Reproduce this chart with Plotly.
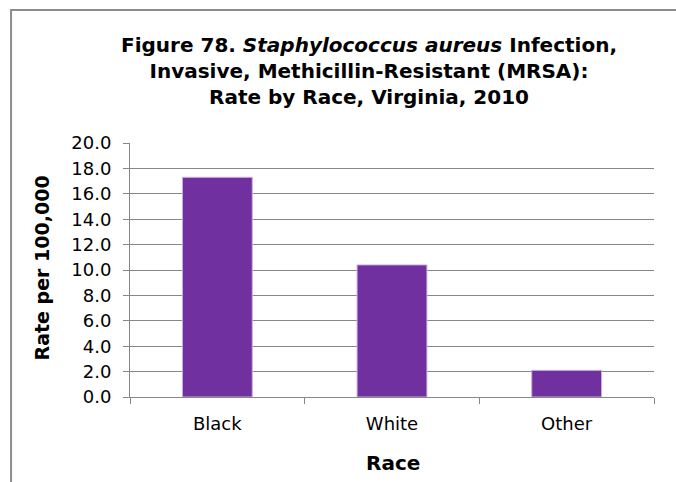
import plotly.graph_objects as go

# Invasive MRSA rate per 100,000 by race, Virginia 2010
races = ["Black", "White", "Other"]
rates = [17.3, 10.4, 2.1]
y_ticks = [0, 2, 4, 6, 8, 10, 12, 14, 16, 18, 20]
y_tick_labels = [f"{v:.1f}" for v in y_ticks]

FONT = "DejaVu Sans, Liberation Sans, Arial, sans-serif"
GRID = "#878787"

fig = go.Figure(
    go.Bar(
        x=races,
        y=rates,
        width=0.4,
        marker=dict(color="#7030A0", line=dict(color="#C9B3DA", width=1)),
    )
)

fig.update_layout(
    width=676,
    height=482,
    margin=dict(l=130, r=22, t=143, b=85),
    paper_bgcolor="white",
    plot_bgcolor="white",
    showlegend=False,
    font=dict(family=FONT, size=18, color="black"),
    xaxis=dict(
        showline=True,
        linecolor=GRID,
        linewidth=1,
        ticks="outside",
        tickson="boundaries",
        ticklen=6,
        tickcolor=GRID,
        showgrid=False,
        tickfont=dict(size=18),
        ticklabelstandoff=10,
    ),
    yaxis=dict(
        range=[0, 20],
        tickvals=y_ticks,
        ticktext=y_tick_labels,
        showline=True,
        linecolor=GRID,
        linewidth=1,
        ticks="outside",
        ticklen=6,
        tickcolor=GRID,
        showgrid=True,
        gridcolor=GRID,
        gridwidth=1,
        zeroline=False,
        tickfont=dict(size=18),
        ticklabelstandoff=8,
    ),
    annotations=[
        # chart title, three centred lines
        dict(
            text="<b>Figure 78. <i>Staphylococcus aureus</i> Infection,<br>"
                 "Invasive, Methicillin-Resistant (MRSA):<br>"
                 "Rate by Race, Virginia, 2010</b>",
            xref="paper", yref="paper",
            x=0.456, y=1.283,
            xanchor="center", yanchor="middle",
            align="center", showarrow=False,
            font=dict(family=FONT, size=20, color="black"),
        ),
        dict(
            text="<b>Rate per 100,000</b>",
            xref="paper", yref="paper",
            x=-0.168, y=0.51,
            xanchor="center", yanchor="middle",
            textangle=-90, showarrow=False,
            font=dict(family=FONT, size=19, color="black"),
        ),
        dict(
            text="<b>Race</b>",
            xref="paper", yref="paper",
            x=0.502, y=-0.26,
            xanchor="center", yanchor="middle",
            showarrow=False,
            font=dict(family=FONT, size=20, color="black"),
        ),
    ],
    shapes=[
        dict(
            type="rect",
            xref="paper", yref="paper",
            x0=-0.227, x1=1.2, y0=-0.6, y1=1.524,
            line=dict(color="#8c8c8c", width=2),
            fillcolor="rgba(0,0,0,0)",
            layer="below",
        )
    ],
)

fig.write_html("out.html")
